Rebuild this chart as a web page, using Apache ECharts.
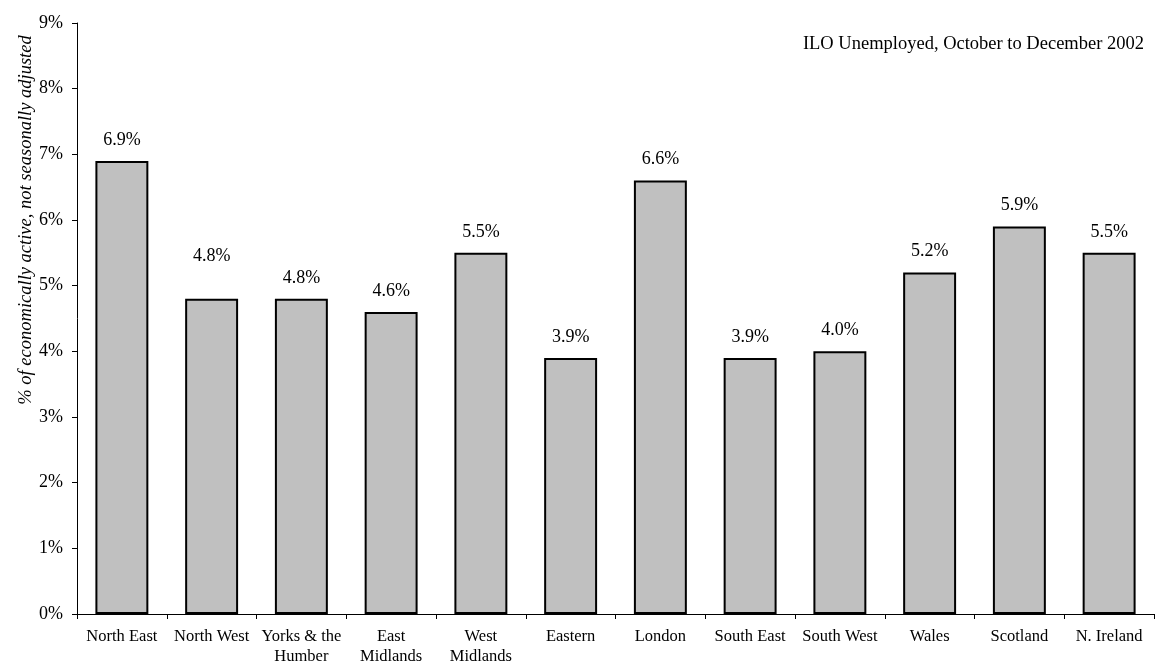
<!DOCTYPE html>
<html>
<head>
<meta charset="utf-8">
<script src="https://cdn.jsdelivr.net/npm/echarts@6/dist/echarts.min.js"></script>
<style>
  html, body { margin: 0; padding: 0; background: #fff; }
  #chart { width: 1155px; height: 666px; }
</style>
</head>
<body>
<div id="chart"></div>
<script>
// regions and ILO unemployment rates (%), Oct-Dec 2002
var regions = ['North East', 'North West', 'Yorks & the\nHumber', 'East\nMidlands', 'West\nMidlands',
    'Eastern', 'London', 'South East', 'South West', 'Wales', 'Scotland', 'N. Ireland'];
var rates = [6.9, 4.8, 4.8, 4.6, 5.5, 3.9, 6.6, 3.9, 4.0, 5.2, 5.9, 5.5];
var yTitle = '% of economically active, not seasonally adjusted';

var font = 'Liberation Serif, Times New Roman, serif';

var chartBox = echarts.init(document.getElementById('chart'));

var barData = rates.map(function (v, i) {
    var item = { value: v };
    // excel pushed this label up a bit
    if (i === 1) item.label = { distance: 34 };
    return item;
});

var option = {
    animation: false,
    backgroundColor: '#fff',
    title: {
        text: 'ILO Unemployed, October to December 2002',
        right: 6,
        top: 30,
        textStyle: { fontFamily: font, fontSize: 18.5, fontWeight: 'normal', color: '#000' }
    },
    graphic: [{
        type: 'text',
        x: 26,
        y: 220,
        rotation: Math.PI / 2,
        style: {
            text: yTitle,
            fontFamily: font, fontSize: 18.5, fontStyle: 'italic', fill: '#000',
            align: 'center', verticalAlign: 'middle'
        }
    }],
    grid: {
        left: 77,
        right: 1,
        top: 23,
        bottom: 52,
        outerBoundsMode: 'none'
    },
    xAxis: {
        type: 'category',
        data: regions,
        axisLine: { lineStyle: { color: '#000', width: 1 } },
        axisTick: { show: true, length: 5, lineStyle: { color: '#000' } },
        axisLabel: {
            fontFamily: font, fontSize: 16.5, color: '#000',
            margin: 13, lineHeight: 20, interval: 0
        }
    },
    yAxis: {
        type: 'value',
        min: 0,
        max: 9,
        interval: 1,
        axisLine: { show: true, lineStyle: { color: '#000', width: 1 } },
        axisTick: { show: true, length: 5, lineStyle: { color: '#000' } },
        splitLine: { show: false },
        axisLabel: {
            fontFamily: font, fontSize: 18, color: '#000', margin: 14,
            formatter: function (v) { return v + '%'; }
        }
    },
    series: [{
        type: 'bar',
        data: barData,
        barCategoryGap: '41%',
        itemStyle: { color: '#c0c0c0', borderColor: '#000', borderWidth: 2 },
        label: {
            show: true,
            position: 'top',
            distance: 12,
            fontFamily: font, fontSize: 18, color: '#000',
            formatter: function (p) { return p.value.toFixed(1) + '%'; }
        }
    }]
};

chartBox.setOption(option);
</script>
</body>
</html>
